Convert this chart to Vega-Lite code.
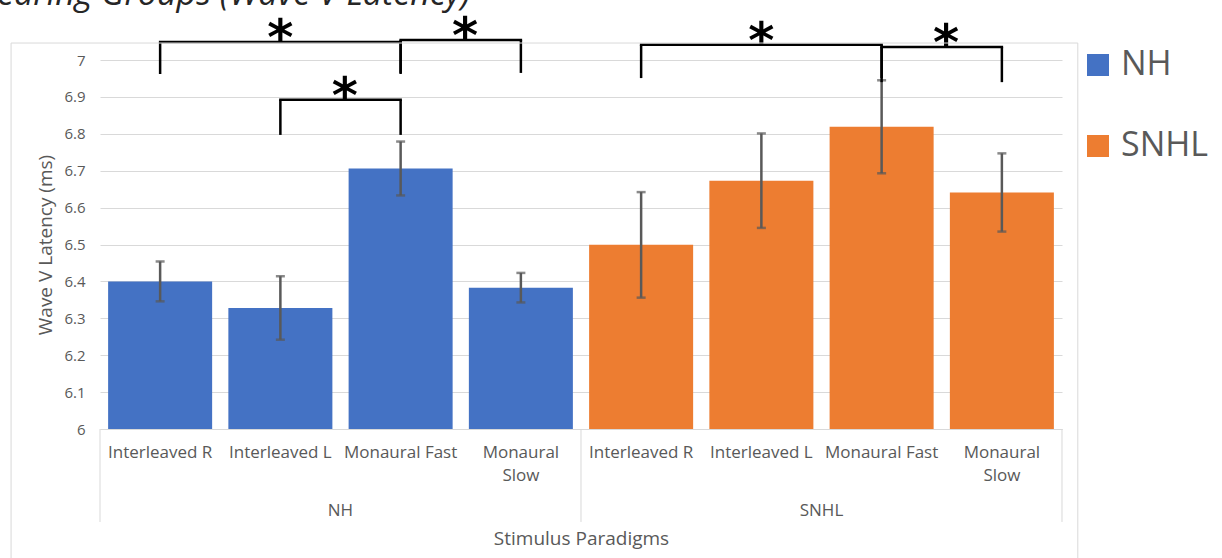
{
  "$schema": "https://vega.github.io/schema/vega-lite/v6.json",
  "width": 962,
  "height": 369,
  "autosize": {"type": "none"},
  "padding": {"left": 100, "top": 60, "right": 160, "bottom": 129},
  "background": "white",
  "config": {
    "view": {"stroke": null},
    "font": "Open Sans",
    "axis": {
      "labelFont": "Open Sans",
      "titleFont": "Open Sans",
      "labelColor": "#595959",
      "titleColor": "#595959",
      "titleFontWeight": "normal",
      "domainColor": "#d9d9d9",
      "gridColor": "#d9d9d9",
      "ticks": false,
      "tickSize": 0
    },
    "axisX": {
      "labelFontSize": 17,
      "titleFontSize": 19,
      "labelPadding": 15,
      "labelLineHeight": 23,
      "titleY": 109,
      "titleBaseline": "middle",
      "grid": false
    },
    "axisY": {
      "labelFontSize": 15,
      "titleFontSize": 19,
      "labelPadding": 15,
      "domain": false,
      "grid": true,
      "titleX": -55,
      "titleBaseline": "middle"
    }
  },
  "datasets": {
    "bars": [
      {"key": "Interleaved R|NH", "group": "NH", "mean": 6.400, "lo": 6.346, "hi": 6.454},
      {"key": "Interleaved L|NH", "group": "NH", "mean": 6.328, "lo": 6.242, "hi": 6.414},
      {"key": "Monaural Fast|NH", "group": "NH", "mean": 6.706, "lo": 6.633, "hi": 6.779},
      {"key": "Monaural Slow|NH", "group": "NH", "mean": 6.383, "lo": 6.343, "hi": 6.423},
      {"key": "Interleaved R|SNHL", "group": "SNHL", "mean": 6.499, "lo": 6.356, "hi": 6.642},
      {"key": "Interleaved L|SNHL", "group": "SNHL", "mean": 6.673, "lo": 6.545, "hi": 6.801},
      {"key": "Monaural Fast|SNHL", "group": "SNHL", "mean": 6.819, "lo": 6.693, "hi": 6.945},
      {"key": "Monaural Slow|SNHL", "group": "SNHL", "mean": 6.641, "lo": 6.535, "hi": 6.747}
    ],
    "brackets": [
      {"from": "Interleaved R|NH", "to": "Monaural Fast|NH", "top": 7.049, "foot": 6.962},
      {"from": "Monaural Fast|NH", "to": "Monaural Slow|NH", "top": 7.054, "foot": 6.965},
      {"from": "Interleaved L|NH", "to": "Monaural Fast|NH", "top": 6.892, "foot": 6.797},
      {"from": "Interleaved R|SNHL", "to": "Monaural Fast|SNHL", "top": 7.041, "foot": 6.951},
      {"from": "Monaural Fast|SNHL", "to": "Monaural Slow|SNHL", "top": 7.035, "foot": 6.940}
    ],
    "stars": [
      {"key": "Interleaved L|NH", "place": "centre", "top": 7.049, "sig": "*"},
      {"key": "Monaural Fast|NH", "place": "between", "top": 7.054, "sig": "*"},
      {"key": "Interleaved L|NH", "place": "between", "top": 6.892, "sig": "*"},
      {"key": "Interleaved L|SNHL", "place": "centre", "top": 7.041, "sig": "*"},
      {"key": "Monaural Fast|SNHL", "place": "between", "top": 7.035, "sig": "*"}
    ],
    "groups": [
      {"key": "Interleaved L|NH", "label": "NH", "level": 5.779},
      {"key": "Interleaved L|SNHL", "label": "SNHL", "level": 5.779}
    ],
    "dividers": [
      {"key": "Monaural Slow|NH", "top": 6, "bottom": 5.748},
      {"key": "Monaural Slow|SNHL", "top": 6, "bottom": 5.748}
    ],
    "edges": [
      {"key": "Interleaved R|NH", "top": 6, "bottom": 5.748}
    ],
    "frame": [
      {"left": "Interleaved R|NH", "right": "Monaural Slow|SNHL", "top": 7.046, "bottom": 5.5}
    ],
    "heading": [
      {"key": "Interleaved R|NH", "text": "Hearing Groups (Wave V Latency)", "level": 7.149}
    ]
  },
  "layer": [
    {
      "data": {"name": "bars"},
      "mark": {"type": "bar"},
      "encoding": {
        "x": {
          "field": "key",
          "type": "nominal",
          "sort": null,
          "scale": {
            "domain": ["Interleaved R|NH", "Interleaved L|NH", "Monaural Fast|NH", "Monaural Slow|NH",
                       "Interleaved R|SNHL", "Interleaved L|SNHL", "Monaural Fast|SNHL", "Monaural Slow|SNHL"],
            "paddingInner": 0.135,
            "paddingOuter": 0.0675
          },
          "title": "Stimulus Paradigms",
          "axis": {"labelAngle": 0, "labelExpr": "split(datum.value, '|')[0] == 'Monaural Slow' ? ['Monaural', 'Slow'] : split(datum.value, '|')[0]"}
        },
        "y": {
          "field": "mean",
          "type": "quantitative",
          "scale": {"domain": [6, 7], "nice": false, "zero": false},
          "title": "Wave V Latency (ms)",
          "axis": {"values": [6, 6.1, 6.2, 6.3, 6.4, 6.5, 6.6, 6.7, 6.8, 6.9, 7], "format": ".1~f", "labelOverlap": false}
        },
        "y2": {"datum": 6},
        "color": {
          "field": "group",
          "type": "nominal",
          "scale": {"domain": ["NH", "SNHL"], "range": ["#4472C4", "#ED7D31"]},
          "legend": {
            "orient": "none",
            "legendX": 981,
            "legendY": -12,
            "title": null,
            "padding": 0,
            "symbolType": "square",
            "symbolSize": 484,
            "symbolStrokeWidth": 0,
            "symbolOpacity": 1,
            "labelFont": "Open Sans",
            "labelFontSize": 34,
            "labelColor": "#595959",
            "labelOffset": 6,
            "rowPadding": 47
          }
        }
      }
    },
    {
      "data": {"name": "bars"},
      "mark": {"type": "rule", "color": "#595959", "strokeWidth": 2.5},
      "encoding": {
        "x": {"field": "key", "type": "nominal", "sort": null, "title": "Stimulus Paradigms", "axis": {"labelAngle": 0, "labelExpr": "split(datum.value, '|')[0] == 'Monaural Slow' ? ['Monaural', 'Slow'] : split(datum.value, '|')[0]"}},
        "y": {"field": "lo", "type": "quantitative", "title": "Wave V Latency (ms)", "axis": {"values": [6, 6.1, 6.2, 6.3, 6.4, 6.5, 6.6, 6.7, 6.8, 6.9, 7], "format": ".1~f", "labelOverlap": false}},
        "y2": {"field": "hi"}
      }
    },
    {
      "data": {"name": "bars"},
      "mark": {"type": "tick", "color": "#595959", "size": 9, "thickness": 2.5},
      "encoding": {
        "x": {"field": "key", "type": "nominal", "sort": null, "title": "Stimulus Paradigms", "axis": {"labelAngle": 0, "labelExpr": "split(datum.value, '|')[0] == 'Monaural Slow' ? ['Monaural', 'Slow'] : split(datum.value, '|')[0]"}},
        "y": {"field": "lo", "type": "quantitative", "title": "Wave V Latency (ms)", "axis": {"values": [6, 6.1, 6.2, 6.3, 6.4, 6.5, 6.6, 6.7, 6.8, 6.9, 7], "format": ".1~f", "labelOverlap": false}}
      }
    },
    {
      "data": {"name": "bars"},
      "mark": {"type": "tick", "color": "#595959", "size": 9, "thickness": 2.5},
      "encoding": {
        "x": {"field": "key", "type": "nominal", "sort": null, "title": "Stimulus Paradigms", "axis": {"labelAngle": 0, "labelExpr": "split(datum.value, '|')[0] == 'Monaural Slow' ? ['Monaural', 'Slow'] : split(datum.value, '|')[0]"}},
        "y": {"field": "hi", "type": "quantitative", "title": "Wave V Latency (ms)", "axis": {"values": [6, 6.1, 6.2, 6.3, 6.4, 6.5, 6.6, 6.7, 6.8, 6.9, 7], "format": ".1~f", "labelOverlap": false}}
      }
    },
    {
      "data": {"name": "brackets"},
      "mark": {"type": "rule", "color": "black", "strokeWidth": 2.5, "strokeCap": "square"},
      "encoding": {
        "x": {"field": "from", "type": "nominal", "sort": null, "bandPosition": 0.5, "title": "Stimulus Paradigms", "axis": {"labelAngle": 0, "labelExpr": "split(datum.value, '|')[0] == 'Monaural Slow' ? ['Monaural', 'Slow'] : split(datum.value, '|')[0]"}},
        "x2": {"field": "to", "bandPosition": 0.5},
        "y": {"field": "top", "type": "quantitative", "title": "Wave V Latency (ms)", "axis": {"values": [6, 6.1, 6.2, 6.3, 6.4, 6.5, 6.6, 6.7, 6.8, 6.9, 7], "format": ".1~f", "labelOverlap": false}}
      }
    },
    {
      "data": {"name": "brackets"},
      "mark": {"type": "rule", "color": "black", "strokeWidth": 2.5},
      "encoding": {
        "x": {"field": "from", "type": "nominal", "sort": null, "bandPosition": 0.5, "title": "Stimulus Paradigms", "axis": {"labelAngle": 0, "labelExpr": "split(datum.value, '|')[0] == 'Monaural Slow' ? ['Monaural', 'Slow'] : split(datum.value, '|')[0]"}},
        "y": {"field": "top", "type": "quantitative", "title": "Wave V Latency (ms)", "axis": {"values": [6, 6.1, 6.2, 6.3, 6.4, 6.5, 6.6, 6.7, 6.8, 6.9, 7], "format": ".1~f", "labelOverlap": false}},
        "y2": {"field": "foot"}
      }
    },
    {
      "data": {"name": "brackets"},
      "mark": {"type": "rule", "color": "black", "strokeWidth": 2.5},
      "encoding": {
        "x": {"field": "to", "type": "nominal", "sort": null, "bandPosition": 0.5, "title": "Stimulus Paradigms", "axis": {"labelAngle": 0, "labelExpr": "split(datum.value, '|')[0] == 'Monaural Slow' ? ['Monaural', 'Slow'] : split(datum.value, '|')[0]"}},
        "y": {"field": "top", "type": "quantitative", "title": "Wave V Latency (ms)", "axis": {"values": [6, 6.1, 6.2, 6.3, 6.4, 6.5, 6.6, 6.7, 6.8, 6.9, 7], "format": ".1~f", "labelOverlap": false}},
        "y2": {"field": "foot"}
      }
    },
    {
      "data": {"name": "stars"},
      "transform": [{"filter": "datum.place == 'centre'"}],
      "mark": {"type": "text", "font": "DejaVu Sans", "fontWeight": "bold", "fontSize": 50, "baseline": "alphabetic", "dy": 13, "color": "black"},
      "encoding": {
        "x": {"field": "key", "type": "nominal", "sort": null, "bandPosition": 0.5, "title": "Stimulus Paradigms", "axis": {"labelAngle": 0, "labelExpr": "split(datum.value, '|')[0] == 'Monaural Slow' ? ['Monaural', 'Slow'] : split(datum.value, '|')[0]"}},
        "y": {"field": "top", "type": "quantitative", "title": "Wave V Latency (ms)", "axis": {"values": [6, 6.1, 6.2, 6.3, 6.4, 6.5, 6.6, 6.7, 6.8, 6.9, 7], "format": ".1~f", "labelOverlap": false}},
        "text": {"field": "sig"}
      }
    },
    {
      "data": {"name": "stars"},
      "transform": [{"filter": "datum.place == 'between'"}],
      "mark": {"type": "text", "font": "DejaVu Sans", "fontWeight": "bold", "fontSize": 50, "baseline": "alphabetic", "dy": 13, "color": "black"},
      "encoding": {
        "x": {"field": "key", "type": "nominal", "sort": null, "bandPosition": 1.12, "title": "Stimulus Paradigms", "axis": {"labelAngle": 0, "labelExpr": "split(datum.value, '|')[0] == 'Monaural Slow' ? ['Monaural', 'Slow'] : split(datum.value, '|')[0]"}},
        "y": {"field": "top", "type": "quantitative", "title": "Wave V Latency (ms)", "axis": {"values": [6, 6.1, 6.2, 6.3, 6.4, 6.5, 6.6, 6.7, 6.8, 6.9, 7], "format": ".1~f", "labelOverlap": false}},
        "text": {"field": "sig"}
      }
    },
    {
      "data": {"name": "groups"},
      "mark": {"type": "text", "fontSize": 17, "color": "#595959", "baseline": "middle"},
      "encoding": {
        "x": {"field": "key", "type": "nominal", "sort": null, "bandPosition": 1.078, "title": "Stimulus Paradigms", "axis": {"labelAngle": 0, "labelExpr": "split(datum.value, '|')[0] == 'Monaural Slow' ? ['Monaural', 'Slow'] : split(datum.value, '|')[0]"}},
        "y": {"field": "level", "type": "quantitative", "title": "Wave V Latency (ms)", "axis": {"values": [6, 6.1, 6.2, 6.3, 6.4, 6.5, 6.6, 6.7, 6.8, 6.9, 7], "format": ".1~f", "labelOverlap": false}},
        "text": {"field": "label"}
      }
    },
    {
      "data": {"name": "dividers"},
      "mark": {"type": "rule", "color": "#d9d9d9", "strokeWidth": 1},
      "encoding": {
        "x": {"field": "key", "type": "nominal", "sort": null, "bandPosition": 1.078, "title": "Stimulus Paradigms", "axis": {"labelAngle": 0, "labelExpr": "split(datum.value, '|')[0] == 'Monaural Slow' ? ['Monaural', 'Slow'] : split(datum.value, '|')[0]"}},
        "y": {"field": "top", "type": "quantitative", "title": "Wave V Latency (ms)", "axis": {"values": [6, 6.1, 6.2, 6.3, 6.4, 6.5, 6.6, 6.7, 6.8, 6.9, 7], "format": ".1~f", "labelOverlap": false}},
        "y2": {"field": "bottom"}
      }
    },
    {
      "data": {"name": "edges"},
      "mark": {"type": "rule", "color": "#d9d9d9", "strokeWidth": 1},
      "encoding": {
        "x": {"field": "key", "type": "nominal", "sort": null, "bandPosition": -0.078, "title": "Stimulus Paradigms", "axis": {"labelAngle": 0, "labelExpr": "split(datum.value, '|')[0] == 'Monaural Slow' ? ['Monaural', 'Slow'] : split(datum.value, '|')[0]"}},
        "y": {"field": "top", "type": "quantitative", "title": "Wave V Latency (ms)", "axis": {"values": [6, 6.1, 6.2, 6.3, 6.4, 6.5, 6.6, 6.7, 6.8, 6.9, 7], "format": ".1~f", "labelOverlap": false}},
        "y2": {"field": "bottom"}
      }
    },
    {
      "data": {"name": "frame"},
      "mark": {"type": "rule", "color": "#d9d9d9", "strokeWidth": 1},
      "encoding": {
        "x": {"field": "left", "type": "nominal", "sort": null, "bandPosition": -0.933, "title": "Stimulus Paradigms", "axis": {"labelAngle": 0, "labelExpr": "split(datum.value, '|')[0] == 'Monaural Slow' ? ['Monaural', 'Slow'] : split(datum.value, '|')[0]"}},
        "x2": {"field": "right", "bandPosition": 1.23},
        "y": {"field": "top", "type": "quantitative", "title": "Wave V Latency (ms)", "axis": {"values": [6, 6.1, 6.2, 6.3, 6.4, 6.5, 6.6, 6.7, 6.8, 6.9, 7], "format": ".1~f", "labelOverlap": false}}
      }
    },
    {
      "data": {"name": "frame"},
      "mark": {"type": "rule", "color": "#d9d9d9", "strokeWidth": 1},
      "encoding": {
        "x": {"field": "left", "type": "nominal", "sort": null, "bandPosition": -0.933, "title": "Stimulus Paradigms", "axis": {"labelAngle": 0, "labelExpr": "split(datum.value, '|')[0] == 'Monaural Slow' ? ['Monaural', 'Slow'] : split(datum.value, '|')[0]"}},
        "y": {"field": "top", "type": "quantitative", "title": "Wave V Latency (ms)", "axis": {"values": [6, 6.1, 6.2, 6.3, 6.4, 6.5, 6.6, 6.7, 6.8, 6.9, 7], "format": ".1~f", "labelOverlap": false}},
        "y2": {"field": "bottom"}
      }
    },
    {
      "data": {"name": "frame"},
      "mark": {"type": "rule", "color": "#d9d9d9", "strokeWidth": 1},
      "encoding": {
        "x": {"field": "right", "type": "nominal", "sort": null, "bandPosition": 1.23, "title": "Stimulus Paradigms", "axis": {"labelAngle": 0, "labelExpr": "split(datum.value, '|')[0] == 'Monaural Slow' ? ['Monaural', 'Slow'] : split(datum.value, '|')[0]"}},
        "y": {"field": "top", "type": "quantitative", "title": "Wave V Latency (ms)", "axis": {"values": [6, 6.1, 6.2, 6.3, 6.4, 6.5, 6.6, 6.7, 6.8, 6.9, 7], "format": ".1~f", "labelOverlap": false}},
        "y2": {"field": "bottom"}
      }
    },
    {
      "data": {"name": "heading"},
      "mark": {"type": "text", "fontSize": 34, "fontStyle": "italic", "color": "#262626", "align": "left", "baseline": "alphabetic"},
      "encoding": {
        "x": {"field": "key", "type": "nominal", "sort": null, "bandPosition": -1.29, "title": "Stimulus Paradigms", "axis": {"labelAngle": 0, "labelExpr": "split(datum.value, '|')[0] == 'Monaural Slow' ? ['Monaural', 'Slow'] : split(datum.value, '|')[0]"}},
        "y": {"field": "level", "type": "quantitative", "title": "Wave V Latency (ms)", "axis": {"values": [6, 6.1, 6.2, 6.3, 6.4, 6.5, 6.6, 6.7, 6.8, 6.9, 7], "format": ".1~f", "labelOverlap": false}},
        "text": {"field": "text"}
      }
    }
  ]
}
